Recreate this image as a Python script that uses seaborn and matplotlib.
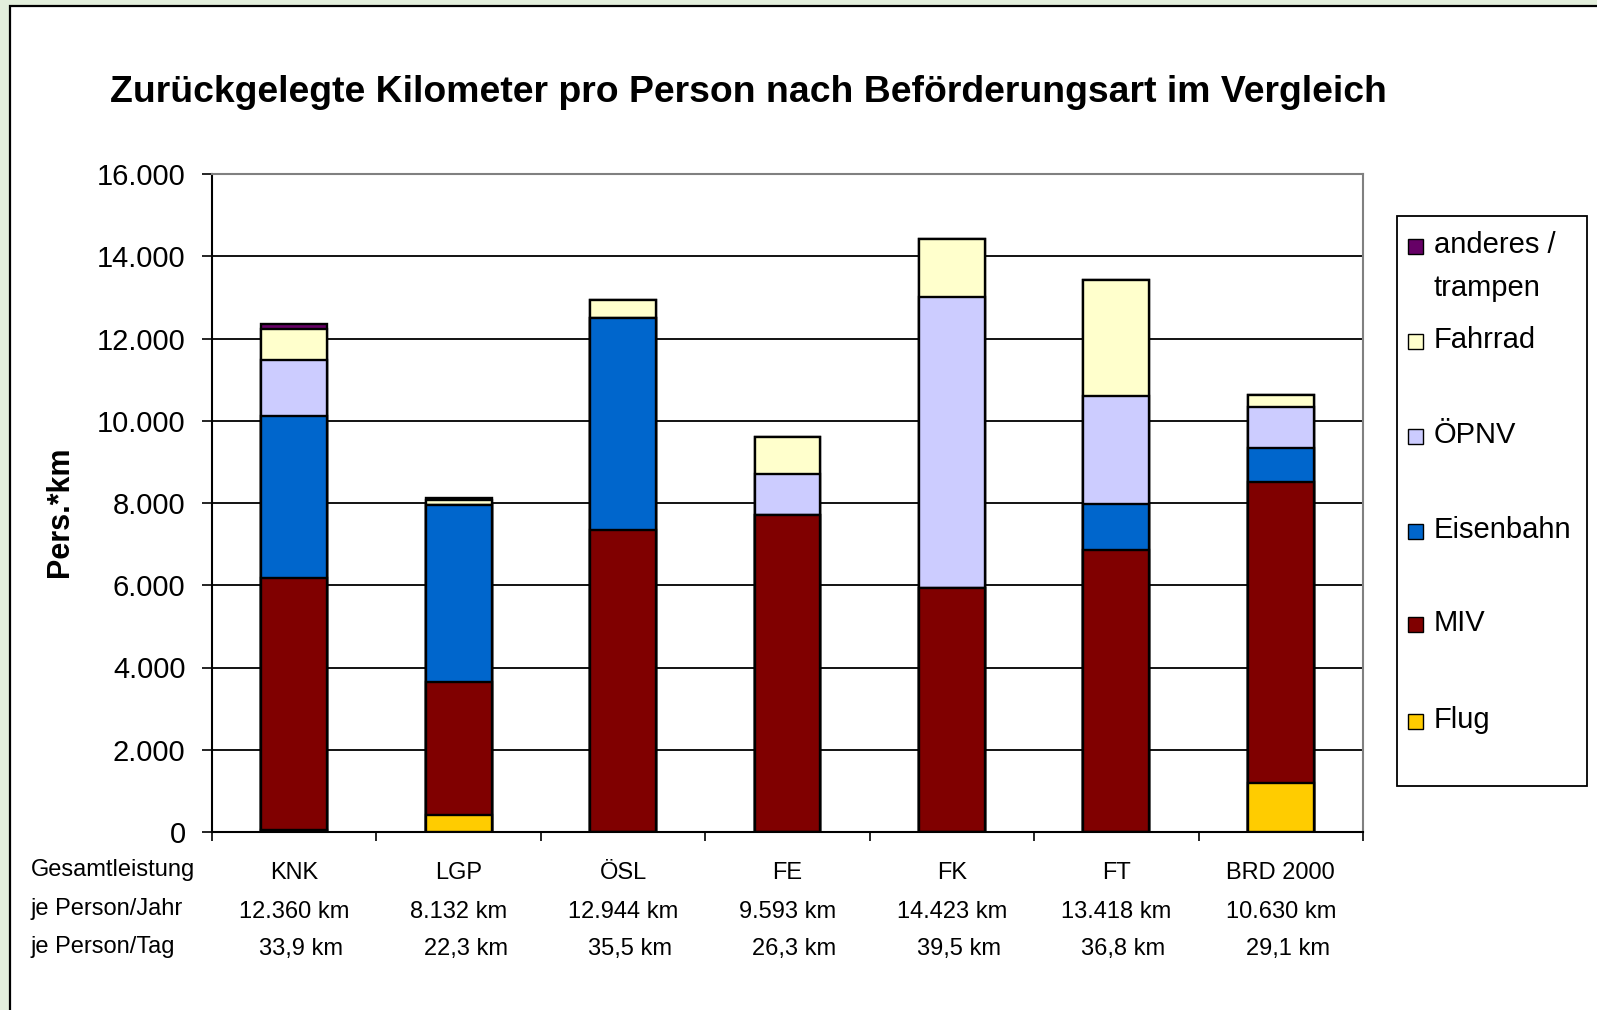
import matplotlib
matplotlib.use("Agg")
import numpy as np
import pandas as pd
import seaborn as sns
import matplotlib.pyplot as plt
from matplotlib.patches import Rectangle
from matplotlib.ticker import FuncFormatter, FixedLocator
import matplotlib.transforms as mtransforms

# Data (Pers.*km per year)
categories = ['KNK', 'LGP', 'ÖSL', 'FE', 'FK', 'FT', 'BRD 2000']
flug = [40, 420, 0, 0, 0, 0, 1200]
miv = [6130, 3220, 7340, 7720, 5940, 6860, 7300]
eisenbahn = [3940, 4322, 5150, 0, 0, 1110, 830]
oepnv = [1360, 0, 0, 980, 7080, 2630, 1010]
fahrrad = [770, 110, 454, 893, 1403, 2818, 290]
anderes = [120, 60, 0, 0, 0, 0, 0]

per_year = ['12.360 km', '8.132 km', '12.944 km', '9.593 km', '14.423 km', '13.418 km', '10.630 km']
per_day = ['33,9 km', '22,3 km', '35,5 km', '26,3 km', '39,5 km', '36,8 km', '29,1 km']
row_labels = ['Gesamtleistung', 'je Person/Jahr', 'je Person/Tag']

series = ['Flug', 'MIV', 'Eisenbahn', 'ÖPNV', 'Fahrrad', 'anderes / trampen']
colors = {'Flug': '#FFCC00', 'MIV': '#800000', 'Eisenbahn': '#0066CC',
          'ÖPNV': '#CCCCFF', 'Fahrrad': '#FFFFCC', 'anderes / trampen': '#660066'}

df = pd.DataFrame({'Flug': flug, 'MIV': miv, 'Eisenbahn': eisenbahn,
                   'ÖPNV': oepnv, 'Fahrrad': fahrrad, 'anderes / trampen': anderes},
                  index=categories)
cum = df[series].cumsum(axis=1)

sns.set_theme(style="white")
plt.rcParams['font.family'] = ['Liberation Sans', 'DejaVu Sans']
plt.rcParams.update({'text.color': 'black', 'axes.labelcolor': 'black',
                     'xtick.color': 'black', 'ytick.color': 'black'})

W, H = 1597, 1010
fig = plt.figure(figsize=(W / 100, H / 100), dpi=100, facecolor='#E3EFDC')

# white panel with black frame
fig.patches.append(Rectangle((10 / W, -0.1), 1.2, 1 - 6 / H + 0.1, transform=fig.transFigure,
                             facecolor='white', edgecolor='black', linewidth=1.6, zorder=-10))

ax = fig.add_axes([212 / W, 1 - 832 / H, (1363 - 212) / W, (832 - 174) / H])
ax.set_facecolor('white')

# stacked bars: draw cumulative totals from the top layer down
for s in series[::-1]:
    sns.barplot(x=categories, y=cum[s].values, color=colors[s], saturation=1,
                width=0.4, edgecolor='black', linewidth=1.7, errorbar=None, ax=ax, zorder=3)

ax.set_xlim(-0.5, len(categories) - 0.5)
ax.set_ylim(0, 16000)
ax.set_yticks(np.arange(0, 16001, 2000))
ax.yaxis.set_major_formatter(FuncFormatter(lambda v, p: f"{int(v):,}".replace(",", ".")))
ax.tick_params(axis='y', direction='out', length=7, width=1.2, color='black',
               labelsize=21, pad=12, left=True)
ax.xaxis.set_major_locator(FixedLocator(np.arange(-0.5, len(categories), 1.0)))
ax.set_xticklabels([])
ax.set_xlabel('')
ax.tick_params(axis='x', direction='out', length=6.5, width=1.2, color='black', bottom=True)

ax.yaxis.grid(True, color='black', linewidth=1.3)
ax.set_axisbelow(True)
for side in ['left', 'bottom']:
    ax.spines[side].set_color('black')
    ax.spines[side].set_linewidth(1.5)
for side in ['top', 'right']:
    ax.spines[side].set_color('#808080')
    ax.spines[side].set_linewidth(1.5)

ax.set_ylabel('Pers.*km', fontsize=22, fontweight='bold')
ax.yaxis.set_label_coords(-0.119, 0.486)

# table under the bars
trans = mtransforms.blended_transform_factory(ax.transData, ax.transAxes)
for i, cat in enumerate(categories):
    ax.text(i, -0.0625, cat, transform=trans, ha='center', va='center', fontsize=17)
    ax.text(i, -0.121, per_year[i], transform=trans, ha='center', va='center', fontsize=17)
    ax.annotate(per_day[i], xy=(i, -0.178), xycoords=trans, xytext=(5, 0),
                textcoords='offset points', ha='center', va='center', fontsize=17)
for lab, y in zip(row_labels, [870, 908.5, 947]):
    fig.text(31 / W, 1 - y / H, lab, ha='left', va='center', fontsize=17)

fig.text(748 / W, 1 - 92 / H, 'Zurückgelegte Kilometer pro Person nach Beförderungsart im Vergleich',
         ha='center', va='center', fontsize=26.9, fontweight='bold')

# legend box
fig.patches.append(Rectangle((1397 / W, 1 - 786 / H), 190 / W, 570 / H, transform=fig.transFigure,
                             facecolor='white', edgecolor='black', linewidth=1.3, zorder=1))
leg_items = [('anderes / trampen', 'anderes /\ntrampen', 242), ('Fahrrad', 'Fahrrad', 337),
             ('ÖPNV', 'ÖPNV', 432), ('Eisenbahn', 'Eisenbahn', 527),
             ('MIV', 'MIV', 620), ('Flug', 'Flug', 717)]
for key, text, yc in leg_items:
    sq = 15
    fig.patches.append(Rectangle((1408 / W, 1 - (yc + 4 + sq / 2) / H), sq / W, sq / H,
                                 transform=fig.transFigure, facecolor=colors[key],
                                 edgecolor='black', linewidth=1.0, zorder=2))
    fig.text(1434 / W, 1 - (yc - 11) / H, text, ha='left', va='top', fontsize=21,
             linespacing=1.7, zorder=3)

fig.savefig('out.png', dpi=100, facecolor=fig.get_facecolor())
